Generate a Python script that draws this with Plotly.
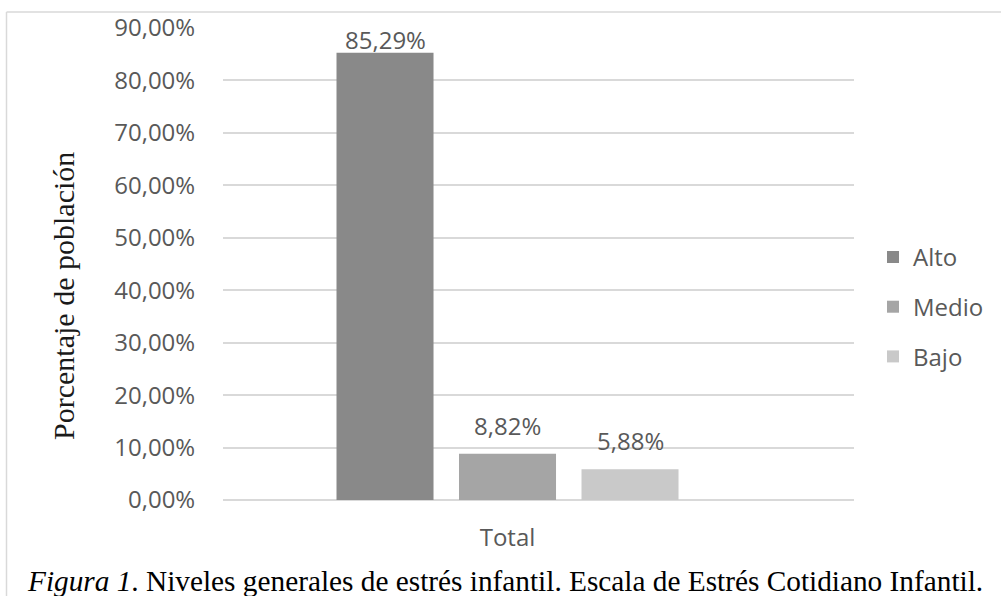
import plotly.graph_objects as go

categories = ["Total"]
series_names = ["Alto", "Medio", "Bajo"]
alto = [0.8529]
medio = [0.0882]
bajo = [0.0588]
series_values = [alto, medio, bajo]
colors = ["#898989", "#a5a5a5", "#c9c9c9"]
y_ticks = [0.0, 0.1, 0.2, 0.3, 0.4, 0.5, 0.6, 0.7, 0.8, 0.9]
y_title = "Porcentaje de población"
caption = "<i>Figura 1</i>. Niveles generales de estrés infantil. Escala de Estrés Cotidiano Infantil."

W, H = 1001, 596
ML, MR, MT, MB = 223, 147, 27.5, 95.5
PW = W - ML - MR
PH = H - MT - MB
BARGAP = 0.4
BARGROUPGAP = 0.208
Y_MAX = 0.9
X_RANGE = [-0.4645, 0.5657]


def px_x(px):
    return (px - ML) / PW


def px_y(py):
    return (H - MB - py) / PH


def fmt(v):
    return f"{v*100:.2f}%".replace(".", ",")


fig = go.Figure()
for name, vals, col in zip(series_names, series_values, colors):
    fig.add_trace(go.Bar(
        x=categories, y=vals, name=name, marker_color=col,
        marker_line_width=0, legendgroup=name,
    ))

text_col = "#595959"
tick_font = dict(family="Open Sans", size=24, color=text_col)

# data labels (placed above bars, kept inside the plot area like the original)
n = len(series_names)
slot = (1 - BARGAP) / n
for i, vals in enumerate(series_values):
    for j, v in enumerate(vals):
        y_lab = min(v + 0.019, Y_MAX - 0.058)
        fig.add_annotation(
            x=j + (i - (n - 1) / 2) * slot, y=y_lab, xref="x", yref="y",
            text=fmt(v), showarrow=False, yanchor="bottom",
            font=tick_font,
        )

# y axis title
fig.add_annotation(
    x=px_x(64), y=px_y(296), xref="paper", yref="paper",
    xanchor="center", yanchor="middle",
    text=y_title, textangle=-90, showarrow=False,
    font=dict(family="Liberation Serif", size=30, color="#1a1a1a"),
)

# caption
fig.add_annotation(
    x=px_x(25), y=px_y(582), xref="paper", yref="paper",
    xanchor="left", yanchor="middle",
    text=caption, showarrow=False,
    font=dict(family="Liberation Serif", size=29.3, color="#000000"),
)

# chart border (top and left visible)
border = dict(color="#d9d9d9", width=1.5)
fig.add_shape(type="line", xref="paper", yref="paper",
              x0=px_x(6.5), x1=px_x(1010), y0=px_y(11.5), y1=px_y(11.5), line=border)
fig.add_shape(type="line", xref="paper", yref="paper",
              x0=px_x(6.5), x1=px_x(6.5), y0=px_y(11.5), y1=px_y(610), line=border)

fig.update_layout(
    width=W, height=H,
    margin=dict(l=ML, r=MR, t=MT, b=MB, pad=0, autoexpand=False),
    paper_bgcolor="white", plot_bgcolor="white",
    barmode="group", bargap=BARGAP, bargroupgap=BARGROUPGAP,
    separators=",.",
    showlegend=True,
    legend=dict(
        x=px_x(873), y=px_y(307), xanchor="left", yanchor="middle",
        font=tick_font, tracegroupgap=15.5, bgcolor="rgba(0,0,0,0)",
        traceorder="grouped",
    ),
    xaxis=dict(
        type="category", range=X_RANGE, showgrid=False, zeroline=False,
        showline=False, ticks="outside", ticklen=16,
        tickcolor="rgba(0,0,0,0)", tickfont=tick_font,
    ),
    yaxis=dict(
        range=[0, Y_MAX], tickvals=y_ticks, tickformat=".2%",
        showgrid=True, gridcolor="#d9d9d9", gridwidth=1.5,
        zeroline=True, zerolinecolor="#d9d9d9", zerolinewidth=1.5,
        showline=False, ticks="outside", ticklen=22,
        tickcolor="rgba(0,0,0,0)", tickfont=tick_font,
    ),
)

fig.write_html("out.html")
